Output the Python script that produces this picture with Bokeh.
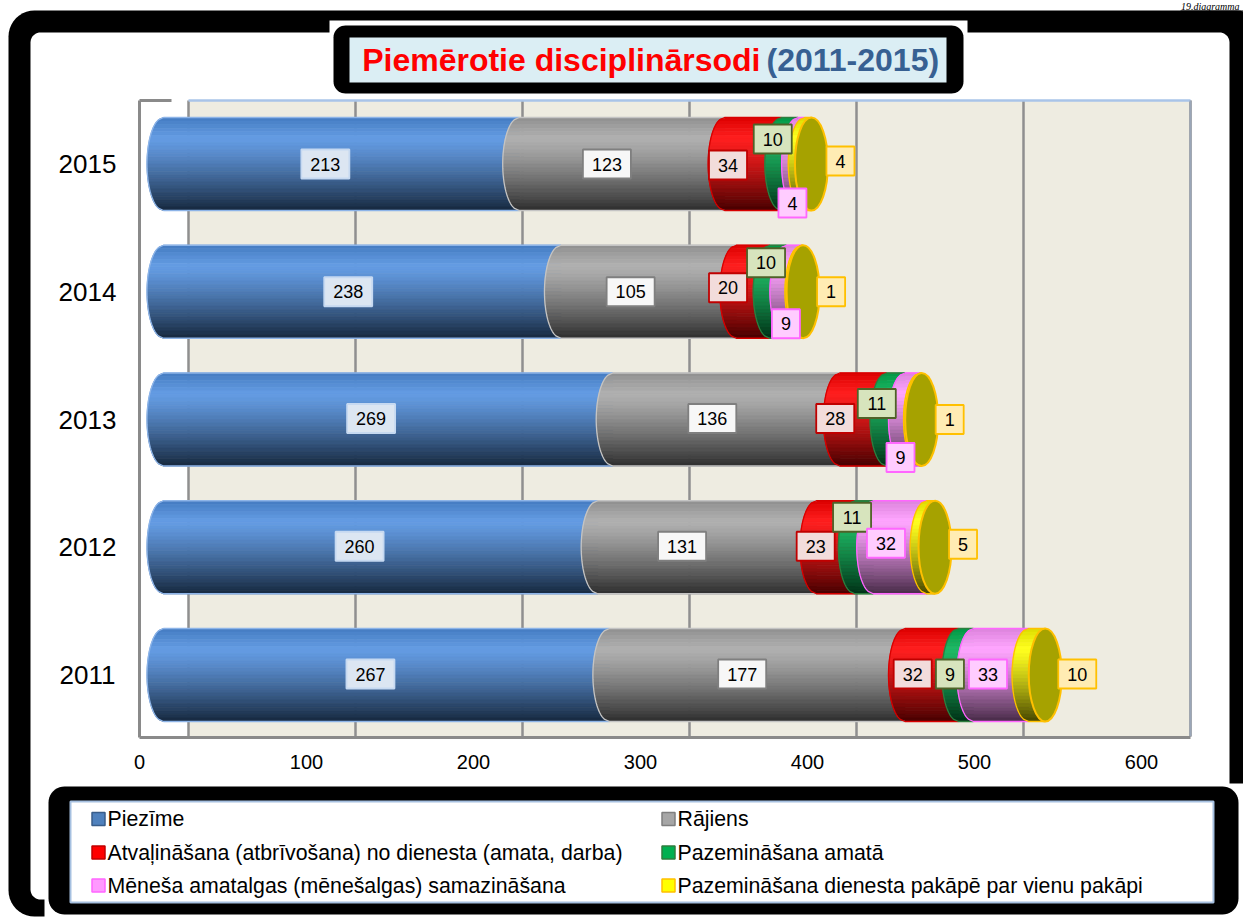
import math
from bokeh.plotting import figure
from bokeh.models import Range1d
from bokeh.core.properties import value
from bokeh.embed import file_html
from bokeh.resources import INLINE

# ---------------- data ----------------
years = ["2011", "2012", "2013", "2014", "2015"]
piezime = [267, 260, 269, 238, 213]
rajiens = [177, 131, 136, 105, 123]
atvalinasana = [32, 23, 28, 20, 34]
pazeminasana_amata = [9, 11, 11, 10, 10]
menesa_samazinasana = [33, 32, 9, 9, 4]
pazeminasana_pakape = [10, 5, 1, 1, 4]
series_names = [
    "Piezīme",
    "Rājiens",
    "Atvaļināšana (atbrīvošana) no dienesta (amata, darba)",
    "Pazemināšana amatā",
    "Mēneša amatalgas (mēnešalgas) samazināšana",
    "Pazemināšana dienesta pakāpē par vienu pakāpi",
]
x_ticks = [0, 100, 200, 300, 400, 500, 600]
title_main = "Piemērotie disciplinārsodi"
title_years = "(2011-2015)"
page_note = "19.diagramma"

series = [piezime, rajiens, atvalinasana, pazeminasana_amata,
          menesa_samazinasana, pazeminasana_pakape]

# ---------------- styles / layout ----------------
FONT = value("Liberation Sans")
PX0, PXU = 163.0, 1.67      # pixel of value 0, pixels per unit (bar plane)
PY0, PYU = 674.5, 127.75    # pixel of first category, pixels per category
DEPTH_PX = 25.0             # 3-D depth offset (back wall) in px
FRONT_PX = -24.0            # front plane offset in px


def X(px):
    return (px - PX0) / PXU


def Y(py):
    return (PY0 - py) / PYU


base_cols = ["#4F8FE0", "#A6A6A6", "#FF0000", "#00B050", "#FF99FF", "#FFFF00"]
edge_cols = ["#8DB4E8", "#C4C4C4", "#D80000", "#2E7D3E", "#FF66FF", "#FFC000"]
lab_fill = ["#DCE6F2", "#F7F7F7", "#F2DCDB", "#D7E4BD", "#FFCCFF", "#FFECB3"]
lab_line = ["#C6D9F1", "#7F7F7F", "#C00000", "#4F6228", "#FF66FF", "#FFC000"]
leg_fill = ["#4F81BD", "#A6A6A6", "#FF0000", "#00B050", "#FF99FF", "#FFFF00"]
leg_line = ["#385D8A", "#7F7F7F", "#C00000", "#2E7D3E", "#FF66FF", "#FFC000"]

# data-label pixel offsets (dx, dy) per series, per year (2011..2015)
label_offsets = [
    [(-16, -1), (-21, -1), (-17, -1), (-14, 0), (-16, 0)],
    [(-15, -1), (-25, -1), (-14, -1), (-18, 0), (-15, 0)],
    [(-19, -1), (-20, -1), (-28, -1), (-25, -4), (-25, 1)],
    [(-16, -1), (-12, -30), (-19, -16), (-12, -29), (-17, -25)],
    [(-13, -1), (-14, -4), (-12, 38), (-8, 32), (-9, 39)],
    [(32, -1), (28, -3), (28, 0), (28, 0), (29, -3)],   # relative to bar end
]

W, H = 1243, 917
p = figure(width=W, height=H, x_range=Range1d(X(0), X(W)),
           y_range=Range1d(Y(H), Y(0)), output_backend="svg",
           toolbar_location=None, min_border=0,
           x_axis_location=None, y_axis_location=None)
p.grid.visible = False
p.outline_line_color = None
p.background_fill_color = "white"
p.border_fill_color = "white"


def rrect(x0, y0, x1, y1, r, n=10):
    xs, ys = [], []
    corners = [(x1 - r, y0 + r, -90, 0), (x1 - r, y1 - r, 0, 90),
               (x0 + r, y1 - r, 90, 180), (x0 + r, y0 + r, 180, 270)]
    for cx, cy, a0, a1 in corners:
        for k in range(n + 1):
            a = math.radians(a0 + (a1 - a0) * k / n)
            xs.append(X(cx + r * math.cos(a)))
            ys.append(Y(cy + r * math.sin(a)))
    return xs, ys


def box(x0, y0, x1, y1, **kw):
    p.quad(left=X(x0), right=X(x1), top=Y(y0), bottom=Y(y1), **kw)


def txt(px, py, s, size, color="black", align="center", style="normal", font=FONT):
    p.text(x=[X(px)], y=[Y(py)], text=[s], text_font=font, text_font_size=size,
           text_font_style=style, text_color=color, text_align=align,
           text_baseline="middle")


# ---------------- frames ----------------
xs, ys = rrect(8, 10, 1262, 916, 26)
p.patch(xs, ys, fill_color="black", line_color=None)
xs, ys = rrect(30, 32, 1229, 899, 10)
p.patch(xs, ys, fill_color="white", line_color=None)

# title
box(329, 20, 967, 97, fill_color="white", line_color=None)
xs, ys = rrect(333, 25, 963, 93, 12)
p.patch(xs, ys, fill_color="black", line_color=None)
box(349, 37, 946, 82, fill_color="#DBEEF4", line_color=None)
txt(760, 59, title_main, "32px", "#FF0000", "right", "bold")
txt(766, 59, title_years, "32px", "#376092", "left", "bold")

# page note above the frame
txt(1239, 6, page_note, "10px", "black", "right", "italic", value("Liberation Serif"))
p.line(x=[X(1180), X(1243)], y=[Y(10.5)] * 2, line_color="black", line_width=1.2)

# legend frame
box(44, 783, 1250, 920, fill_color="white", line_color=None)
xs, ys = rrect(48, 786, 1238, 914, 16)
p.patch(xs, ys, fill_color="black", line_color=None)
box(70, 801, 1213, 902, fill_color="white", line_color="#A6C0E0", line_width=2)

# ---------------- 3-D walls ----------------
D = DEPTH_PX / PXU
F = FRONT_PX / PXU
p.quad(left=[x_ticks[0] + D], right=[x_ticks[-1] + D], top=[Y(100)], bottom=[Y(736)],
       fill_color="#EEECE1", line_color=None)
p.segment(x0=[t + D for t in x_ticks], x1=[t + D for t in x_ticks],
          y0=[Y(100)] * len(x_ticks), y1=[Y(736)] * len(x_ticks),
          line_color="#8F8F8F", line_width=2.5)
p.line(x=[x_ticks[0] + D, x_ticks[-1] + D], y=[Y(100)] * 2, line_color="#A9C4E8", line_width=2.5)
p.line(x=[x_ticks[-1] + D] * 2, y=[Y(100), Y(736)], line_color="#9AA6B8", line_width=2)
p.line(x=[x_ticks[0] + F, x_ticks[0] + F], y=[Y(100), Y(737)], line_color="#8A8A8A", line_width=3)
p.line(x=[x_ticks[0] + F, x_ticks[0] + F + 32 / PXU], y=[Y(100)] * 2, line_color="#8A8A8A", line_width=3)
p.line(x=[x_ticks[0] + F, x_ticks[-1] + D], y=[Y(737)] * 2, line_color="#8A8A8A", line_width=3)

# ---------------- cylinders ----------------
A = 16.5 / PXU
B = 46.5 / PYU
NS = 26


def hexrgb(h):
    return tuple(int(h[i:i + 2], 16) for i in (1, 3, 5))


def mix(c1, c2, s):
    return tuple(a + (b - a) * s for a, b in zip(c1, c2))


def shade(h, t):
    rgb = hexrgb(h)
    light = mix(rgb, (255, 255, 255), 0.12)
    top = tuple(c * 0.86 for c in rgb)
    bottom = tuple(c * 0.28 for c in rgb)
    if t < 0.22:
        c = mix(top, light, t / 0.22)
    else:
        c = mix(light, bottom, ((t - 0.22) / 0.78) ** 1.25)
    return "#%02x%02x%02x" % tuple(int(max(0, min(255, round(v)))) for v in c)


strip_x, strip_y, strip_c = [], [], []
ol_x, ol_y, ol_c = [], [], []
starts = [[0] * len(years) for _ in series]
ends = [[0] * len(years) for _ in series]
for i in range(len(years)):
    cum = 0
    for k, s in enumerate(series):
        st, en = cum, cum + s[i]
        starts[k][i], ends[k][i] = st, en
        cum = en
        for j in range(NS):
            u0 = 1 - 2 * j / NS
            u1 = 1 - 2 * (j + 1) / NS
            um = (u0 + u1) / 2
            px = [st - A * math.sqrt(max(0, 1 - u0 * u0)), en, en,
                  st - A * math.sqrt(max(0, 1 - u1 * u1)),
                  st - A * math.sqrt(max(0, 1 - um * um))]
            py = [i + B * u0, i + B * u0, i + B * u1, i + B * u1, i + B * um]
            strip_x.append(px)
            strip_y.append(py)
            strip_c.append(shade(base_cols[k], (j + 0.5) / NS))
        cx = [en, st]
        cy = [i + B, i + B]
        for j in range(41):
            u = 1 - 2 * j / 40
            cx.append(st - A * math.sqrt(max(0, 1 - u * u)))
            cy.append(i + B * u)
        cx.append(en)
        cy.append(i - B)
        ol_x.append(cx)
        ol_y.append(cy)
        ol_c.append(edge_cols[k])

p.patches(strip_x, strip_y, fill_color=strip_c, line_color=strip_c, line_width=0.8)
p.multi_line(ol_x, ol_y, line_color=ol_c, line_width=1.3)
totals = [sum(s[i] for s in series) for i in range(len(years))]
p.ellipse(x=totals, y=list(range(len(years))), width=33, height=93,
          width_units="screen", height_units="screen",
          fill_color="#A6A200", line_color="#FFC000", line_width=2)

# ---------------- data labels ----------------
for k, s in enumerate(series):
    lx, ly, lt, lw = [], [], [], []
    for i in range(len(years)):
        dx, dy = label_offsets[k][i]
        anchor = ends[k][i] if k == len(series) - 1 else (starts[k][i] + ends[k][i]) / 2
        lx.append(anchor + dx / PXU)
        ly.append(i - dy / PYU)
        lt.append(str(s[i]))
        lw.append(18 + 10 * len(str(s[i])))
    p.rect(x=lx, y=ly, width=lw, height=29, width_units="screen", height_units="screen",
           fill_color=lab_fill[k], line_color=lab_line[k], line_width=1.8)
    p.text(x=lx, y=ly, text=lt, text_font=FONT, text_font_size="18px",
           text_color="black", text_align="center", text_baseline="middle")

# ---------------- axis texts ----------------
p.text(x=x_ticks, y=[Y(761)] * len(x_ticks), text=[str(t) for t in x_ticks],
       x_offset=FRONT_PX, text_font=FONT, text_font_size="20px", text_color="black",
       text_align="center", text_baseline="middle")
p.text(x=[X(87)] * len(years), y=list(range(len(years))), text=years,
       text_font=FONT, text_font_size="26px", text_color="black",
       text_align="center", text_baseline="middle")

# ---------------- legend ----------------
col_marker = [98, 668]
col_text = [107, 677]
row_mid = [818.5, 852, 885]
for k, name in enumerate(series_names):
    c, r = k % 2, k // 2
    p.rect(x=[X(col_marker[c])], y=[Y(row_mid[r])], width=13, height=13,
           width_units="screen", height_units="screen",
           fill_color=leg_fill[k], line_color=leg_line[k], line_width=1.5)
    txt(col_text[c], row_mid[r], name, "21.3px", align="left")

open("out.html", "w").write(file_html(p, INLINE))
